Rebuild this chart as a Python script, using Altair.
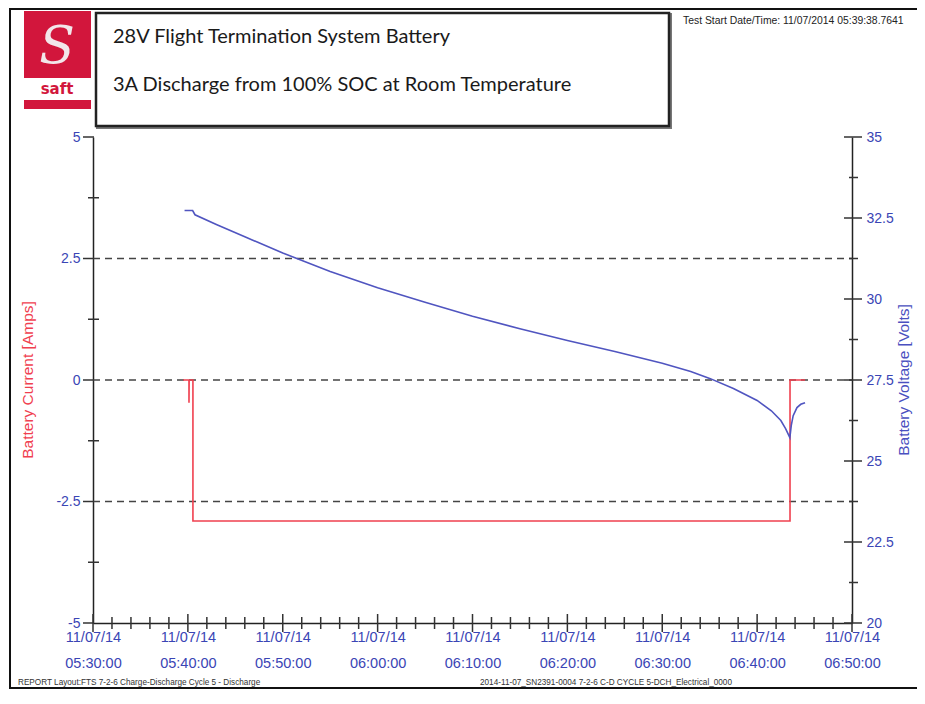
import altair as alt
import pandas as pd

# ---------------- data ----------------
volt_times = ["05:39:39", "05:40:30", "05:40:45", "05:43:00", "05:46:00", "05:50:00",
              "05:55:00", "06:00:00", "06:05:00", "06:10:00", "06:15:00", "06:20:00",
              "06:25:00", "06:30:00", "06:33:00", "06:35:00", "06:37:30", "06:40:00",
              "06:41:30", "06:42:30", "06:43:00", "06:43:27", "06:43:36", "06:43:48",
              "06:44:12", "06:44:36", "06:45:03"]
volt_values = [32.73, 32.73, 32.60, 32.30, 31.92, 31.42,
               30.85, 30.35, 29.90, 29.47, 29.08, 28.72,
               28.38, 28.02, 27.76, 27.55, 27.24, 26.87,
               26.55, 26.25, 26.00, 25.72, 26.10, 26.40,
               26.65, 26.75, 26.80]

curr_times = ["05:39:30", "05:40:07", "05:40:07", "05:40:08", "05:40:32",
              "05:40:32", "06:43:28", "06:43:28", "06:45:03"]
curr_values = [0, 0, -0.47, 0, 0, -2.9, -2.9, 0, 0]

grid_levels = [2.5, 0, -2.5]
x_major = list(range(0, 81, 10))
x_minor = [m for m in range(0, 81, 2) if m % 10]
left_major = [-5, -2.5, 0, 2.5, 5]
left_minor = [-3.75, -1.25, 1.25, 3.75]
right_major = [20, 22.5, 25, 27.5, 30, 32.5, 35]
right_minor = [21.25, 23.75, 26.25, 28.75, 31.25, 33.75]

title_line1 = "28V Flight Termination System Battery"
title_line2 = "3A Discharge from 100% SOC at Room Temperature"
test_start = "Test Start Date/Time: 11/07/2014 05:39:38.7641"
footer_left = "REPORT Layout:FTS 7-2-6 Charge-Discharge Cycle 5 - Discharge"
footer_right = "2014-11-07_SN2391-0004 7-2-6 C-D CYCLE 5-DCH_Electrical_0000"


def to_min(t):
    h, m, s = [int(v) for v in t.split(":")]
    return h * 60 + m + s / 60 - (5 * 60 + 30)


volt_df = pd.DataFrame({"t": [to_min(t) for t in volt_times], "v": volt_values,
                        "i": range(len(volt_times))})
curr_df = pd.DataFrame({"t": [to_min(t) for t in curr_times], "a": curr_values,
                        "i": range(len(curr_times))})

W, H = 759, 486
BLUE = "#3A45B5"
RED = "#F0404F"
FONT = "Liberation Sans"

xscale = alt.Scale(domain=[0, 80], nice=False, zero=False)
ycur = alt.Scale(domain=[-5, 5], nice=False, zero=False)
yvolt = alt.Scale(domain=[20, 35], nice=False, zero=False)

xaxis = alt.Axis(values=x_major, title=None, grid=False, tickSize=0,
                 labelExpr="['11/07/14', timeFormat(datetime(2014,10,7,5,30+datum.value,0),'%H:%M:%S')]",
                 labelFont=FONT, labelFontSize=14.5, labelColor=BLUE, labelPadding=7,
                 labelLineHeight=26, labelBaseline="top", labelFlush=False,
                 labelOverlap=False, domainColor="#222", domainWidth=1.5)


def X(field="t"):
    return alt.X(f"{field}:Q", scale=xscale, axis=xaxis)


one = alt.Data(values=[{"k": 1}])

# dashed grid
grid = alt.Chart(pd.DataFrame({"g": grid_levels})).mark_rule(
    color="#444", strokeWidth=1.5, strokeDash=[7, 5]).encode(
    y=alt.Y("g:Q", scale=ycur, axis=None), x=alt.value(0), x2=alt.value(W))

current = alt.Chart(curr_df).mark_line(color=RED, strokeWidth=1.6).encode(
    x=X(),
    y=alt.Y("a:Q", scale=ycur,
            axis=alt.Axis(orient="left", values=left_major, title=None, grid=False,
                          tickSize=0, labelExpr="'' + datum.value", labelFont=FONT,
                          labelFontSize=14, labelColor=BLUE, labelPadding=13,
                          labelFlush=False, labelOverlap=False,
                          domainColor="#222", domainWidth=1.5)),
    order="i:Q")

voltage = alt.Chart(volt_df).mark_line(color="#5055C0", strokeWidth=1.6).encode(
    x=X(),
    y=alt.Y("v:Q", scale=yvolt,
            axis=alt.Axis(orient="right", values=right_major, title=None, grid=False,
                          tickSize=0, labelExpr="'' + datum.value", labelFont=FONT,
                          labelFontSize=14, labelColor=BLUE, labelPadding=14,
                          labelFlush=False, labelOverlap=False,
                          domainColor="#222", domainWidth=1.5)),
    order="i:Q")

TICK = dict(color="#333", strokeWidth=1.5)

xmaj = alt.Chart(pd.DataFrame({"t": x_major})).mark_rule(**TICK).encode(
    x=X(), y=alt.value(H - 9), y2=alt.value(H + 9))
xmin = alt.Chart(pd.DataFrame({"t": x_minor})).mark_rule(**TICK).encode(
    x=X(), y=alt.value(H - 6), y2=alt.value(H + 6))
lmaj = alt.Chart(pd.DataFrame({"y": left_major})).mark_rule(**TICK).encode(
    y=alt.Y("y:Q", scale=ycur, axis=None), x=alt.value(-10), x2=alt.value(1))
lmin = alt.Chart(pd.DataFrame({"y": left_minor})).mark_rule(**TICK).encode(
    y=alt.Y("y:Q", scale=ycur, axis=None), x=alt.value(-5), x2=alt.value(6))
rmaj = alt.Chart(pd.DataFrame({"y": right_major})).mark_rule(**TICK).encode(
    y=alt.Y("y:Q", scale=yvolt, axis=None), x=alt.value(W - 8), x2=alt.value(W + 10))
rmin = alt.Chart(pd.DataFrame({"y": right_minor})).mark_rule(**TICK).encode(
    y=alt.Y("y:Q", scale=yvolt, axis=None), x=alt.value(W - 3), x2=alt.value(W + 6))


def box(x1, y1, x2, y2, **kw):
    return alt.Chart(one).mark_rect(**kw).encode(
        x=alt.value(x1), x2=alt.value(x2), y=alt.value(y1), y2=alt.value(y2))


def label(txt, x, y, **kw):
    return alt.Chart(one).mark_text(**kw).encode(
        x=alt.value(x), y=alt.value(y), text=alt.value(txt))


frame = box(-83, -128, 825, 551, fill=None, stroke="#111", strokeWidth=2)
tbox_shadow = box(4, -123, 578, -9, fill=None, stroke="#777", strokeWidth=2)
tbox = box(3, -124, 576, -11, fill="white", stroke="#222", strokeWidth=2.5)
logo_sq = box(-69, -126, -2, -59, fill="#D2163C")
logo_bar = box(-69, -37, -2, -28, fill="#D2163C")
logo_s = label("S", -36, -90, font="DejaVu Serif", fontSize=52, fontStyle="italic",
               color="#F2E6EA", align="center", baseline="middle")
logo_txt = label("saft", -36, -48, font="DejaVu Sans", fontSize=15, fontWeight="bold",
                 color="#D2163C", align="center", baseline="middle")
t1 = label(title_line1, 20, -100, font="Lato", fontSize=20, color="#1a1a1a",
           align="left", baseline="middle")
t2 = label(title_line2, 20, -52, font="Lato", fontSize=20, color="#1a1a1a",
           align="left", baseline="middle")
ts = label(test_start, 590, -116, font=FONT, fontSize=10.4, color="#222",
           align="left", baseline="middle")
fl = label(footer_left, -75, 546, font=FONT, fontSize=8.2, color="#333",
           align="left", baseline="middle")
fr = label(footer_right, 387, 546, font=FONT, fontSize=8.2, color="#333",
           align="left", baseline="middle")
ytl = label("Battery Current [Amps]", -65, H / 2, font=FONT, fontSize=15.5, color=RED,
            angle=270, align="center", baseline="middle")
ytr = label("Battery Voltage [Volts]", 811, H / 2, font=FONT, fontSize=15.5, color="#4A50C0",
            angle=270, align="center", baseline="middle")

chart = alt.layer(
    frame, tbox_shadow, tbox, logo_sq, logo_bar, logo_s, logo_txt, t1, t2, ts, fl, fr,
    grid, xmaj, xmin, lmaj, lmin, rmaj, rmin, current, voltage, ytl, ytr
).resolve_scale(y="independent").properties(
    width=W, height=H,
    autosize=alt.AutoSizeParams(type="none"),
    padding={"left": 85, "top": 129, "right": 65, "bottom": 67},
    background="white",
).configure_view(stroke=None)

chart.save("out.html", embed_options={"renderer": "svg", "actions": False})
